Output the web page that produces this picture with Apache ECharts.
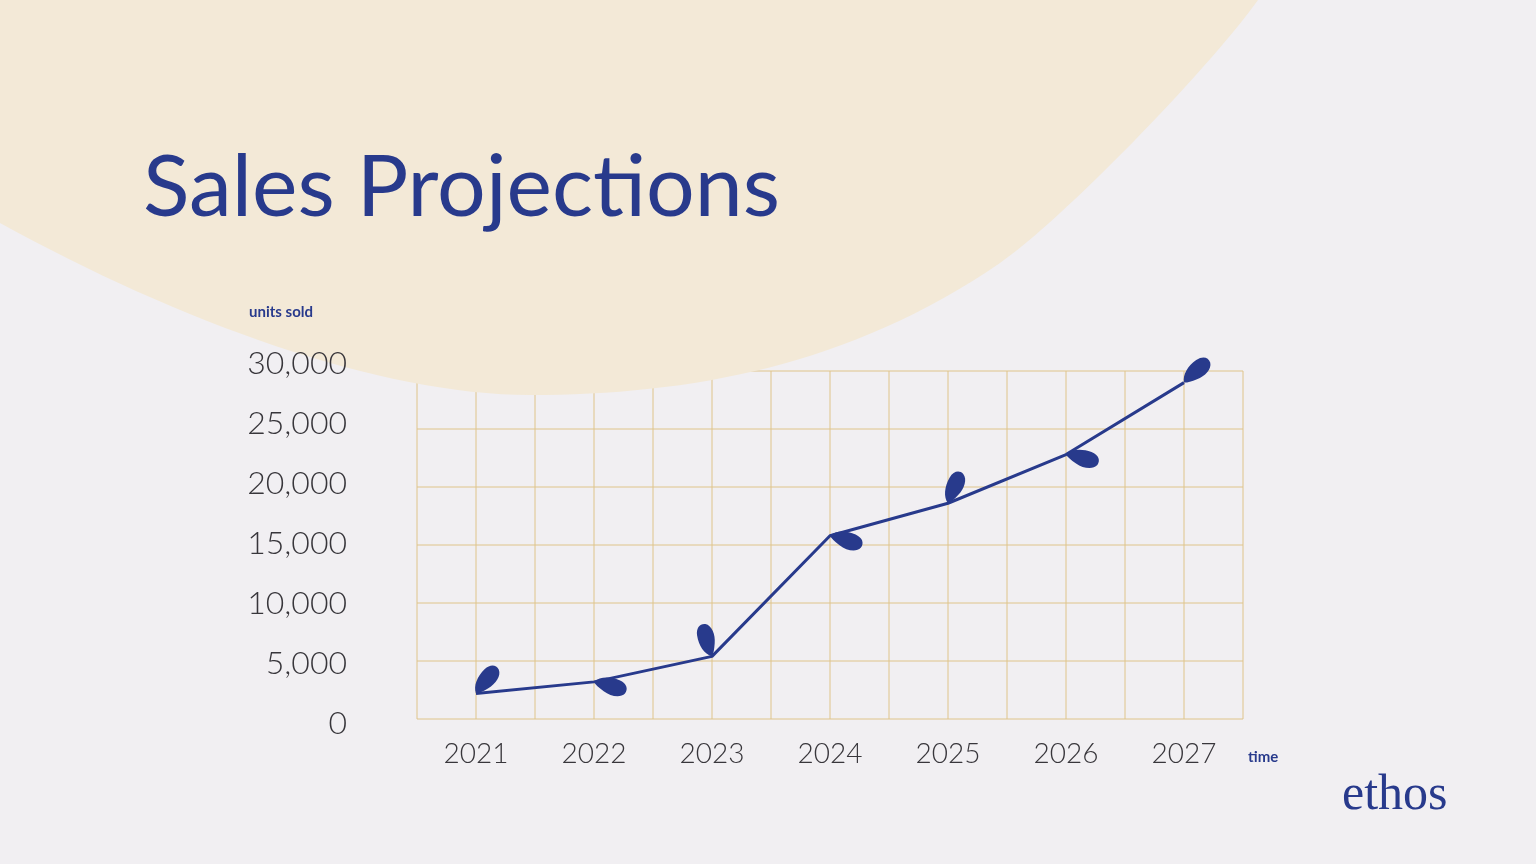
<!DOCTYPE html>
<html>
<head>
<meta charset="utf-8">
<script src="https://cdn.jsdelivr.net/npm/echarts@6/dist/echarts.min.js"></script>
<style>
html,body{margin:0;padding:0;background:#f1eff2;overflow:hidden;}
#c{width:1536px;height:864px;}
</style>
</head>
<body>
<div id="c"></div>
<script>
const years = [2021, 2022, 2023, 2024, 2025, 2026, 2027];
const unitsSold = [2200, 3200, 5400, 15800, 18600, 22800, 29000];
const leafAngles = [50, -17, 105, -18, 66, -15, 41];
const xGridValues = [2020.5, 2021, 2021.5, 2022, 2022.5, 2023, 2023.5, 2024, 2024.5, 2025, 2025.5, 2026, 2026.5, 2027, 2027.5];
const yGridValues = [0, 5000, 10000, 15000, 20000, 25000, 30000];

const NAVY = '#283a8c';
const GRIDC = '#dfc48a';
const LEAF = 'M0,0 C4,-7 14,-10 24,-9 C32,-8 35,-3 33,2 C30,8 20,9 12,6 C6,4 2,2 0,0 Z';
const BLOB = 'M0,0 L0,223 C180,322 380,395 530,395 C690,395 850,366 1000,263 C1060,222 1208,70 1258,0 Z';

const X_MIN = xGridValues[0], X_MAX = xGridValues[xGridValues.length - 1];
const Y_MIN = yGridValues[0], Y_MAX = yGridValues[yGridValues.length - 1];

const chart = echarts.init(document.getElementById('c'));
const lineData = years.map((y, i) => [y, unitsSold[i]]);
const leafData = years.map((y, i) => [y, unitsSold[i], leafAngles[i]]);

chart.setOption({
  backgroundColor: '#f1eff2',
  animation: false,
  graphic: [
    { type: 'text', z: 10, left: 143, top: 145, style: { text: 'Sales Projections', fill: NAVY, font: '400 86px Lato' } },
    { type: 'text', z: 10, left: 249, top: 305, style: { text: 'units sold', fill: NAVY, font: 'bold 15px Lato' } },
    { type: 'text', z: 10, left: 1248, top: 750, style: { text: 'time', fill: NAVY, font: 'bold 15px Lato' } },
    { type: 'text', z: 10, left: 1342, top: 771, style: { text: 'ethos', fill: NAVY, font: '50px "Liberation Serif"' } }
  ],
  grid: [
    { left: 417, right: 293, top: 371, bottom: 145 },
    { left: 417, right: 293, top: 364, bottom: 140 }
  ],
  xAxis: [
    {
      gridIndex: 0, type: 'value', min: X_MIN, max: X_MAX, interval: 0.5,
      axisLine: { show: false }, axisTick: { show: false }, splitLine: { show: false },
      axisLabel: {
        margin: 21, color: '#38363b', fontSize: 28, fontFamily: 'Lato', fontWeight: 300,
        formatter: v => (Math.abs(v - Math.round(v)) < 1e-6 ? String(Math.round(v)) : '')
      }
    },
    {
      gridIndex: 1, type: 'value', min: X_MIN, max: X_MAX, show: false,
      splitLine: { show: false }, axisLabel: { show: false }
    }
  ],
  yAxis: [
    {
      gridIndex: 0, type: 'value', min: Y_MIN, max: Y_MAX, interval: 5000,
      axisLine: { show: false }, axisTick: { show: false }, splitLine: { show: false },
      axisLabel: { show: false }
    },
    {
      gridIndex: 1, type: 'value', min: Y_MIN, max: Y_MAX, interval: 5000, z: 5,
      axisLine: { show: false }, axisTick: { show: false }, splitLine: { show: false },
      axisLabel: {
        margin: 70, color: '#38363b', fontSize: 32, fontFamily: 'Lato', fontWeight: 300,
        formatter: v => v.toLocaleString('en-US')
      }
    }
  ],
  series: [
    {
      type: 'custom', xAxisIndex: 0, yAxisIndex: 0, data: xGridValues.map(v => [v]), z: 0, silent: true,
      encode: { x: 0 },
      renderItem: (params, api) => {
        const a = api.coord([api.value(0), Y_MIN]);
        const b = api.coord([api.value(0), Y_MAX]);
        return { type: 'line', shape: { x1: a[0], y1: a[1], x2: b[0], y2: b[1] }, style: { stroke: GRIDC, lineWidth: 1 } };
      }
    },
    {
      type: 'custom', xAxisIndex: 0, yAxisIndex: 0, data: yGridValues.map(v => [v]), z: 0, silent: true,
      encode: { y: 0 },
      renderItem: (params, api) => {
        const a = api.coord([X_MIN, api.value(0)]);
        const b = api.coord([X_MAX, api.value(0)]);
        return { type: 'line', shape: { x1: a[0], y1: a[1], x2: b[0], y2: b[1] }, style: { stroke: GRIDC, lineWidth: 1 } };
      }
    },
    {
      type: 'custom', xAxisIndex: 1, yAxisIndex: 1, data: [[2021, 0]], z: 1, silent: true,
      renderItem: () => ({ type: 'path', shape: { pathData: BLOB }, style: { fill: '#f3e9d7' } })
    },
    {
      type: 'line', xAxisIndex: 0, yAxisIndex: 0, data: lineData,
      symbol: 'none', lineStyle: { color: NAVY, width: 3 }, z: 3
    },
    {
      type: 'custom', xAxisIndex: 0, yAxisIndex: 0, data: leafData, z: 4,
      renderItem: (params, api) => {
        const p = api.coord([api.value(0), api.value(1)]);
        return {
          type: 'path', x: p[0], y: p[1], rotation: api.value(2) * Math.PI / 180,
          shape: { pathData: LEAF },
          style: { fill: NAVY }
        };
      }
    }
  ]
});
</script>
</body>
</html>
